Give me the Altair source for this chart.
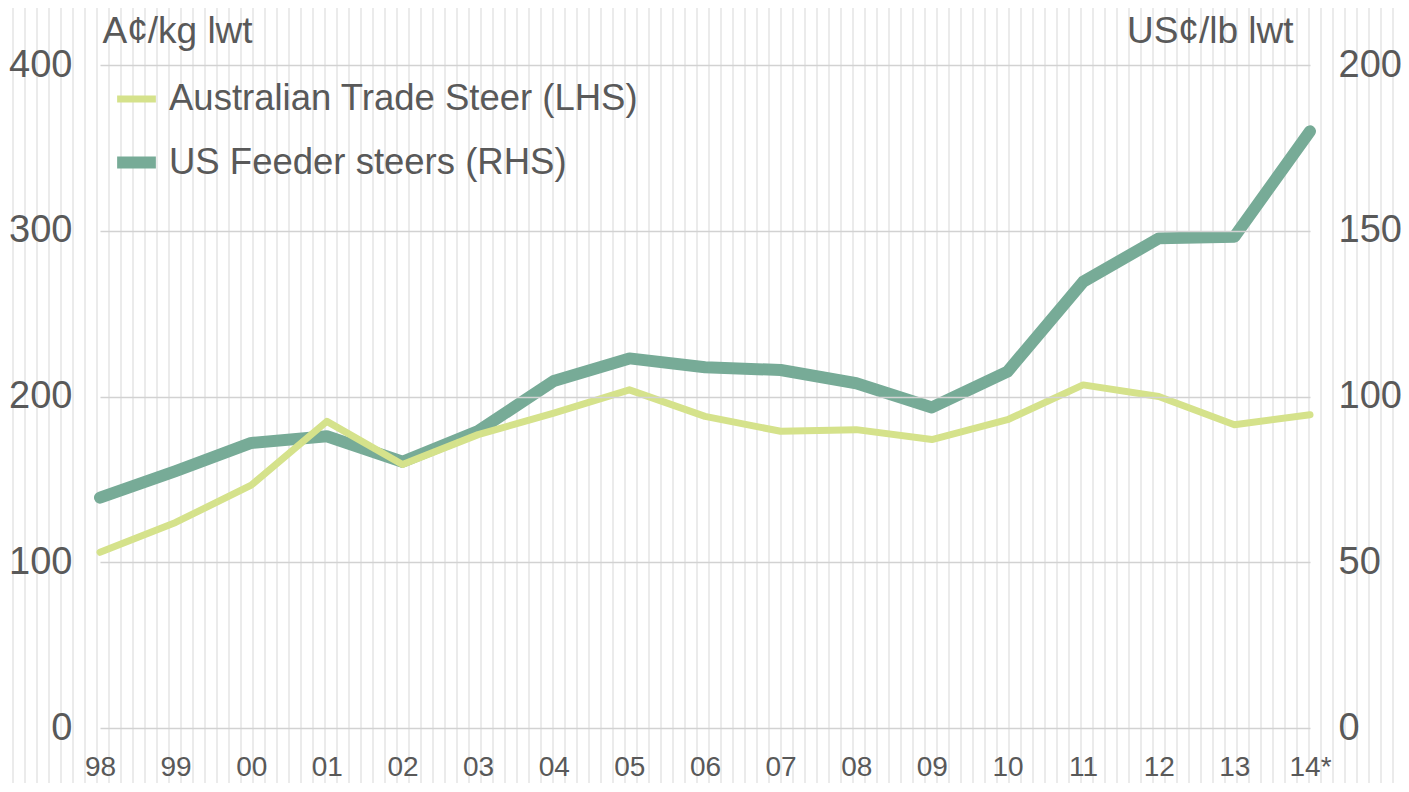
import altair as alt
import pandas as pd

# ---- data ----
years = ["98", "99", "00", "01", "02", "03", "04", "05", "06", "07",
         "08", "09", "10", "11", "12", "13", "14*"]
aus_trade_steer = [106, 124, 146.5, 185, 159, 177, 190, 204, 188, 179,
                   180, 174, 186, 207, 200, 183, 189]          # A¢/kg lwt (LHS)
us_feeder_steers = [69.5, 77.5, 86, 88, 80.3, 89.6, 104.7, 111.5, 108.8, 108,
                    104, 96.7, 107.5, 134.6, 147.7, 148.2, 180]  # US¢/lb lwt (RHS)
series_names = ["Australian Trade Steer (LHS)", "US Feeder steers (RHS)"]
left_ticks = [0, 100, 200, 300, 400]
right_ticks = [0, 50, 100, 150, 200]

df = pd.DataFrame({
    "year": years * 2,
    "series": [series_names[0]] * len(years) + [series_names[1]] * len(years),
    "value": aus_trade_steer + us_feeder_steers,
})

FONT = "Liberation Sans"
GREY = "#595959"
YEL = "#d5e28b"
GRN = "#77ab97"

legend_def = alt.Legend(
    title=None, orient="none", legendX=11, legendY=11,
    labelFont=FONT, labelFontSize=36.5, labelColor=GREY, labelLimit=0,
    symbolType="stroke", symbolSize=1500, labelOffset=7,
    rowPadding=19, padding=0, zindex=2,
)
color_enc = alt.Color("series:N", scale=alt.Scale(domain=series_names, range=[YEL, GRN]),
                      legend=legend_def)
sw_enc = alt.StrokeWidth("series:N", scale=alt.Scale(domain=series_names, range=[7, 12]),
                         legend=legend_def)

x_axis = alt.Axis(title=None, domain=False, ticks=False, grid=False, labelAngle=0,
                  labelFont=FONT, labelFontSize=28, zindex=2,
                  labelColor=GREY, labelPadding=25)

stripes = alt.Chart(alt.sequence(0, 118, as_="k")).mark_rule(
    color="#e4e4e4", strokeWidth=1.5
).encode(
    x=alt.X("k:Q", scale=alt.Scale(domain=[0, 117], range=[-99, 1305], nice=False, zero=False), axis=None),
    y=alt.value(-57),
    y2=alt.value(718),
)

us_layer = alt.Chart(df).transform_filter(
    alt.datum.series == series_names[1]
).mark_line(strokeCap="round", strokeJoin="round").encode(
    x=alt.X("year:N", sort=years, scale=alt.Scale(type="point", padding=0), axis=x_axis),
    y=alt.Y("value:Q", scale=alt.Scale(domain=[0, 200], nice=False),
            axis=alt.Axis(orient="right", values=right_ticks, grid=False, domain=False, ticks=False,
                          zindex=2,
                          labelFont=FONT, labelFontSize=38, labelColor=GREY, labelPadding=28,
                          title="US¢/lb lwt", titleFont=FONT, titleFontSize=37, titleFontWeight="normal",
                          titleColor=GREY, titleAngle=0, titleAlign="right", titleBaseline="alphabetic",
                          titleX=-17, titleY=-23)),
    color=color_enc,
    strokeWidth=sw_enc,
)

aus_layer = alt.Chart(df).transform_filter(
    alt.datum.series == series_names[0]
).mark_line(strokeCap="round", strokeJoin="round").encode(
    x=alt.X("year:N", sort=years, scale=alt.Scale(type="point", padding=0), axis=None),
    y=alt.Y("value:Q", scale=alt.Scale(domain=[0, 400], nice=False),
            axis=alt.Axis(orient="left", values=left_ticks, grid=True, gridColor="#d2d2d2", gridWidth=1.5,
                          domain=False, ticks=False, zindex=2,
                          labelFont=FONT, labelFontSize=38, labelColor=GREY, labelPadding=28,
                          title="A¢/kg lwt", titleFont=FONT, titleFontSize=37, titleFontWeight="normal",
                          titleColor=GREY, titleAngle=0, titleAlign="left", titleBaseline="alphabetic",
                          titleX=2, titleY=-23)),
    color=color_enc,
    strokeWidth=sw_enc,
)

chart = alt.layer(stripes, us_layer, aus_layer).resolve_scale(
    x="independent", y="independent"
).properties(
    width=1210, height=663,
    autosize=alt.AutoSizeParams(type="none"),
    padding={"left": 92, "top": 57, "right": 91, "bottom": 55},
    background="white",
).configure_view(stroke=None)

chart.save("out.html", embed_options={"renderer": "svg", "actions": False})
